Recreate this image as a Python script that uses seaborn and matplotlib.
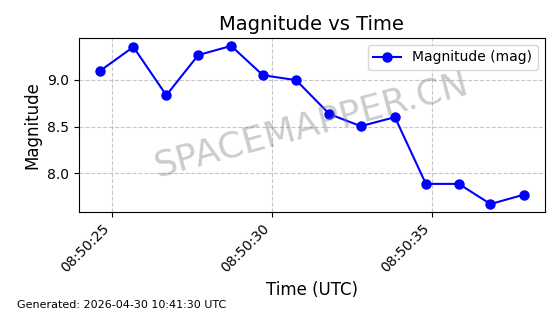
import matplotlib
matplotlib.use("Agg")
import matplotlib.pyplot as plt
import matplotlib.dates as mdates
import seaborn as sns
import pandas as pd

times = ["2026-04-30 08:50:24.636", "2026-04-30 08:50:25.672", "2026-04-30 08:50:26.700",
         "2026-04-30 08:50:27.696", "2026-04-30 08:50:28.724", "2026-04-30 08:50:29.710",
         "2026-04-30 08:50:30.747", "2026-04-30 08:50:31.787", "2026-04-30 08:50:32.761",
         "2026-04-30 08:50:33.829", "2026-04-30 08:50:34.794", "2026-04-30 08:50:35.822",
         "2026-04-30 08:50:36.809", "2026-04-30 08:50:37.845"]
magnitudes = [9.097, 9.353, 8.835, 9.266, 9.364, 9.05, 8.997, 8.633, 8.504, 8.60,
              7.885, 7.885, 7.669, 7.769]
series_label = "Magnitude (mag)"
title = "Magnitude vs Time"
xlabel = "Time (UTC)"
ylabel = "Magnitude"
footer = "Generated: 2026-04-30 10:41:30 UTC"
watermark = "SPACEMAPPER.CN"

df = pd.DataFrame({"time": pd.to_datetime(times), "mag": magnitudes})

fig, ax = plt.subplots(figsize=(5.6, 3.14), dpi=100)
sns.lineplot(data=df, x="time", y="mag", ax=ax, color="blue", marker="o",
             markersize=6.5, markeredgecolor="blue", markeredgewidth=1,
             linewidth=1.5, label=series_label)

ax.set_title(title, fontsize=14)
ax.set_xlabel(xlabel, fontsize=12)
ax.set_ylabel(ylabel, fontsize=12)
ax.grid(True, linestyle="--", color="#b0b0b0", alpha=0.7)
ax.xaxis.set_major_locator(mdates.SecondLocator(bysecond=[0, 5, 10, 15, 20, 25, 30, 35, 40, 45, 50, 55]))
ax.xaxis.set_major_formatter(mdates.DateFormatter("%H:%M:%S"))
plt.setp(ax.get_xticklabels(), rotation=45, ha="right")
ax.legend(loc="upper right")

ax.text(0.5, 0.5, watermark, transform=ax.transAxes, fontsize=26, color="gray",
        alpha=0.4, ha="center", va="center", rotation=15)
fig.text(0.03, 0.02, footer, fontsize=8)

fig.subplots_adjust(left=0.141, right=0.973, top=0.879, bottom=0.325)
fig.savefig("out.png", dpi=100)
